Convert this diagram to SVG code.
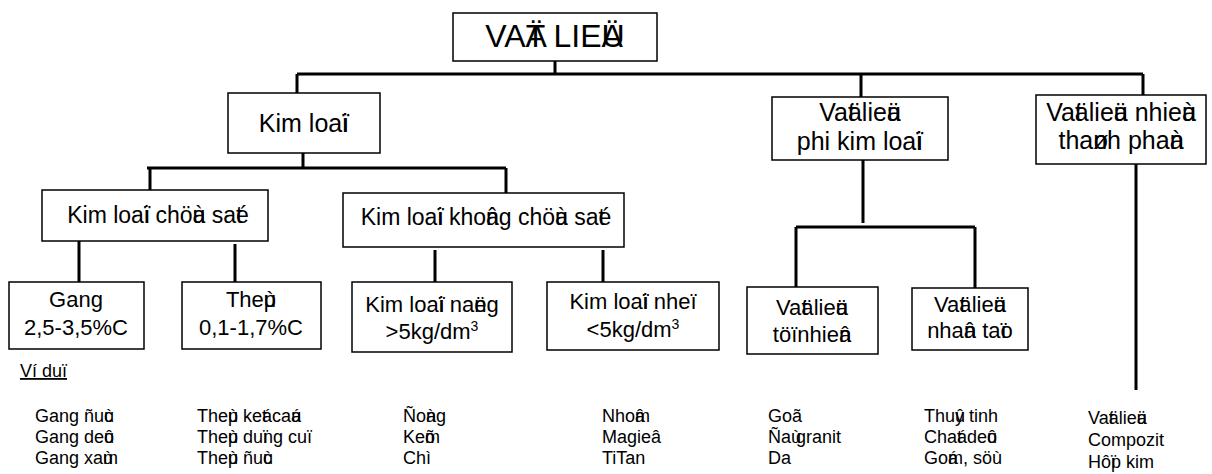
<svg xmlns="http://www.w3.org/2000/svg" width="1212" height="474" viewBox="0 0 1212 474">
<style>
text{font-family:"Liberation Sans",Arial,sans-serif;fill:#000}
.box{fill:#fff;stroke:#000;stroke-width:1.5}
.c{text-anchor:middle}
.t0{font-size:32px}
.t1{font-size:25px}
.t2{font-size:23px}
.t3{font-size:22px}
.l{font-size:18px}
.con{fill:none;stroke:#000;stroke-width:3}
</style>
<rect width="1212" height="474" fill="#fff"/>
<g id="connectors">
<path class="con" d="M555 61V74M297 74H1143M297 74V93M861 74V97M1143 74V95"/>
<path class="con" d="M303 153V168M147 168H506M150 168V190M506 168V193"/>
<path class="con" d="M79 241V282M235 244V286M435 250V282M603 250V287"/>
<path class="con" d="M863 160V223M796 227H975M796 227V287M975 227V288M1136 164V390"/>
</g>
<g id="vat-lieu">
<rect class="box" x="453" y="13" width="204" height="48"/>
<text class="t0 c" x="555" y="47">VAÄ<tspan dx="-21.3">T</tspan> LIEÄ<tspan dx="-21.3">U</tspan></text>
</g>
<g id="kim-loai">
<rect class="box" x="228" y="93" width="152" height="60"/>
<text class="t1 c" x="304" y="132">Kim loaï<tspan dx="-6.95">i</tspan></text>
</g>
<g id="phi-kim">
<rect class="box" x="772" y="97" width="176" height="63"/>
<text class="t1 c" x="860" y="121">Vaä<tspan dx="-13.9">t</tspan> lieä<tspan dx="-13.9">u</tspan></text>
<text class="t1 c" x="860" y="150">phi kim loaï<tspan dx="-6.95">i</tspan></text>
</g>
<g id="nhieu-thanh-phan">
<rect class="box" x="1036" y="95" width="170" height="69"/>
<text class="t1 c" x="1121" y="121">Vaä<tspan dx="-13.9">t</tspan> lieä<tspan dx="-13.9">u</tspan> nhieà<tspan dx="-13.9">u</tspan></text>
<text class="t1 c" x="1121" y="149">thaø<tspan dx="-15.3">n</tspan>h phaà<tspan dx="-13.9">n</tspan></text>
</g>
<g id="chua-sat">
<rect class="box" x="42" y="190" width="226" height="51"/>
<text class="t2 c" x="158" y="223">Kim loaï<tspan dx="-6.4">i</tspan> chöù<tspan dx="-12.8">a</tspan> saé<tspan dx="-12.8">t</tspan></text>
</g>
<g id="khong-chua-sat">
<rect class="box" x="343" y="193" width="281" height="54"/>
<text class="t2 c" x="486" y="225">Kim loaï<tspan dx="-6.4">i</tspan> khoâ<tspan dx="-12.8">n</tspan>g chöù<tspan dx="-12.8">a</tspan> saé<tspan dx="-12.8">t</tspan></text>
</g>
<g id="gang">
<rect class="box" x="9" y="282" width="135" height="67"/>
<text class="t3 c" x="76" y="307">Gang</text>
<text class="t3 c" x="76" y="335">2,5-3,5%C</text>
</g>
<g id="thep">
<rect class="box" x="182" y="282" width="139" height="67"/>
<text class="t3 c" x="251" y="307">Theù<tspan dx="-12.2">p</tspan></text>
<text class="t3 c" x="251" y="335">0,1-1,7%C</text>
</g>
<g id="kim-loai-nang">
<rect class="box" x="352" y="282" width="160" height="70"/>
<text class="t3 c" x="432" y="312">Kim loaï<tspan dx="-6.1">i</tspan> naë<tspan dx="-12.2">n</tspan>g</text>
<text class="t3 c" x="432" y="339">&gt;5kg/dm<tspan dy="-8" font-size="14">3</tspan></text>
</g>
<g id="kim-loai-nhe">
<rect class="box" x="547" y="282" width="172" height="68"/>
<text class="t3 c" x="633" y="309">Kim loaï<tspan dx="-6.1">i</tspan> nheï</text>
<text class="t3 c" x="633" y="337">&lt;5kg/dm<tspan dy="-8" font-size="14">3</tspan></text>
</g>
<g id="tu-nhien">
<rect class="box" x="747" y="287" width="131" height="67"/>
<text class="t3 c" x="812" y="315">Vaä<tspan dx="-12.2">t</tspan> lieä<tspan dx="-12.2">u</tspan></text>
<text class="t3 c" x="812" y="342">töï <tspan dx="-6.1">n</tspan>hieâ<tspan dx="-12.2">n</tspan></text>
</g>
<g id="nhan-tao">
<rect class="box" x="912" y="288" width="116" height="62"/>
<text class="t3 c" x="970" y="312">Vaä<tspan dx="-12.2">t</tspan> lieä<tspan dx="-12.2">u</tspan></text>
<text class="t3 c" x="970" y="338">nhaâ<tspan dx="-12.2">n</tspan> taï<tspan dx="-6.1">o</tspan></text>
</g>
<g id="vi-du">
<text class="l" x="20" y="377" text-decoration="underline">Ví duï</text>
<text class="l" x="35" y="422">Gang ñuù<tspan dx="-10">c</tspan></text>
<text class="l" x="35" y="443">Gang deû<tspan dx="-10">o</tspan></text>
<text class="l" x="35" y="464">Gang xaù<tspan dx="-10">m</tspan></text>
<text class="l" x="197" y="422">Theù<tspan dx="-10">p</tspan> keá<tspan dx="-10">t</tspan> caá<tspan dx="-10">u</tspan></text>
<text class="l" x="197" y="443">Theù<tspan dx="-10">p</tspan> duï<tspan dx="-5">n</tspan>g cuï</text>
<text class="l" x="197" y="464">Theù<tspan dx="-10">p</tspan> ñuù<tspan dx="-10">c</tspan></text>
<text class="l" x="403" y="422">Ñoà<tspan dx="-10">n</tspan>g</text>
<text class="l" x="403" y="443">Keõ<tspan dx="-10">m</tspan></text>
<text class="l" x="403" y="464">Chì</text>
<text class="l" x="602" y="422">Nhoâ<tspan dx="-10">m</tspan></text>
<text class="l" x="602" y="443">Magieâ</text>
<text class="l" x="602" y="464">TiTan</text>
<text class="l" x="768" y="422">Goã</text>
<text class="l" x="768" y="443">Ñaù <tspan dx="-10">g</tspan>ranit</text>
<text class="l" x="768" y="464">Da</text>
<text class="l" x="924" y="422">Thuû<tspan dx="-10">y</tspan> tinh</text>
<text class="l" x="924" y="443">Chaá<tspan dx="-10">t</tspan> deû<tspan dx="-10">o</tspan></text>
<text class="l" x="924" y="464">Goá<tspan dx="-10">m</tspan>, söù</text>
<text class="l" x="1088" y="424">Vaä<tspan dx="-10">t</tspan> lieä<tspan dx="-10">u</tspan></text>
<text class="l" x="1088" y="446">Compozit</text>
<text class="l" x="1088" y="468">Hôï<tspan dx="-5">p</tspan> kim</text>
</g>
</svg>
